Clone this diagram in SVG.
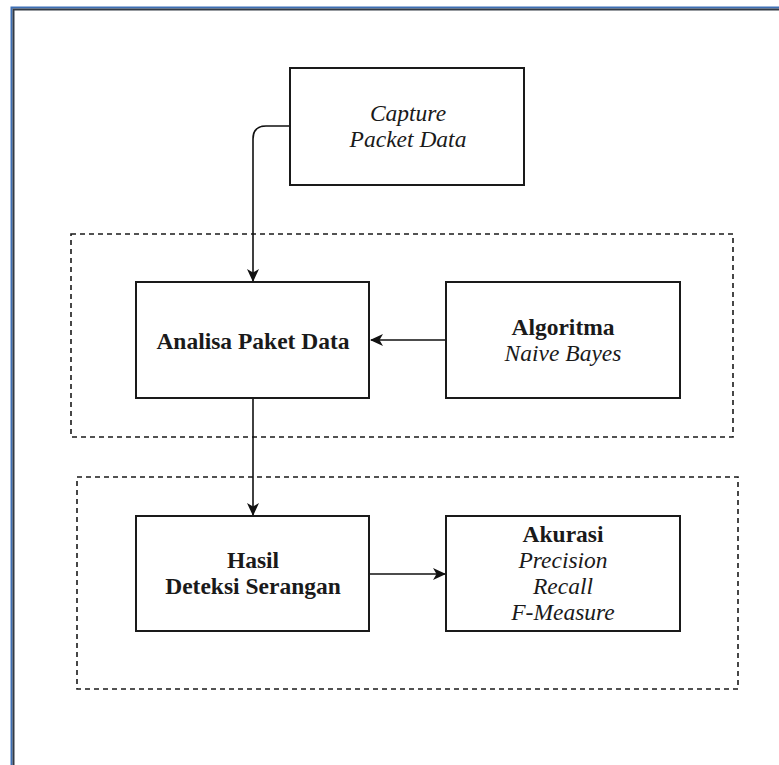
<svg xmlns="http://www.w3.org/2000/svg" width="779" height="765" viewBox="0 0 779 765">
  <style>
    .box { fill: #ffffff; stroke: #1a1a1a; stroke-width: 2; }
    .group { fill: none; stroke: #1a1a1a; stroke-width: 1.6; stroke-dasharray: 5 4; }
    .edge { fill: none; stroke: #111111; stroke-width: 1.6; }
    .lbl { font-family: 'Liberation Serif', serif; font-size: 23.5px; fill: #1a1a1a; text-anchor: middle; }
    .b { font-weight: bold; }
    .i { font-style: italic; }
  </style>
  <defs>
    <marker id="arrow" viewBox="0 0 13 12" refX="12" refY="6" markerWidth="13" markerHeight="12" markerUnits="userSpaceOnUse" orient="auto">
      <path d="M0,0 L13,6 L0,12 L3.5,6 Z" fill="#111111"/>
    </marker>
  </defs>

  <!-- page background and window frame -->
  <rect x="0" y="0" width="779" height="765" fill="#ffffff"/>
  <path d="M11.5,765 V7.5 H779" fill="none" stroke="#3d6fb5" stroke-width="2"/>
  <path d="M13.5,765 V9.5 H779" fill="none" stroke="#333a44" stroke-width="2"/>

  <!-- dashed grouping frames -->
  <g id="group-analysis">
    <rect class="group" x="71" y="234" width="662" height="203"/>
  </g>
  <g id="group-evaluation">
    <rect class="group" x="77" y="477" width="661" height="212"/>
  </g>

  <!-- connectors -->
  <g id="connectors">
    <path class="edge" d="M290,126 H266 Q253,126 253,139 V281" marker-end="url(#arrow)"/>
    <path class="edge" d="M446,340 H371" marker-end="url(#arrow)"/>
    <path class="edge" d="M253,398 V515" marker-end="url(#arrow)"/>
    <path class="edge" d="M369,574 H445" marker-end="url(#arrow)"/>
  </g>

  <g id="capture">
    <rect class="box" x="290" y="68" width="234" height="117"/>
    <text class="lbl i" x="408" y="121">Capture</text>
    <text class="lbl i" x="408" y="147">Packet Data</text>
  </g>

  <g id="analisa">
    <rect class="box" x="136" y="282" width="233" height="116"/>
    <text class="lbl b" x="253" y="349">Analisa Paket Data</text>
  </g>

  <g id="algoritma">
    <rect class="box" x="446" y="282" width="234" height="116"/>
    <text class="lbl b" x="563" y="335">Algoritma</text>
    <text class="lbl i" x="563" y="361">Naive Bayes</text>
  </g>

  <g id="hasil">
    <rect class="box" x="136" y="516" width="233" height="115"/>
    <text class="lbl b" x="253" y="568">Hasil</text>
    <text class="lbl b" x="253" y="594">Deteksi Serangan</text>
  </g>

  <g id="akurasi">
    <rect class="box" x="446" y="516" width="234" height="115"/>
    <text class="lbl b" x="563" y="542">Akurasi</text>
    <text class="lbl i" x="563" y="568">Precision</text>
    <text class="lbl i" x="563" y="594">Recall</text>
    <text class="lbl i" x="563" y="620">F-Measure</text>
  </g>
</svg>
